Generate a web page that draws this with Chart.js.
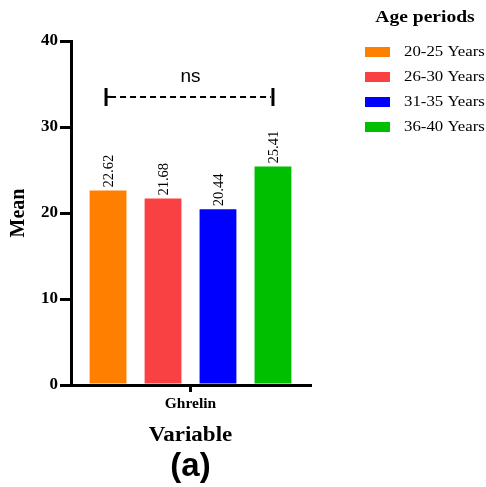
<!DOCTYPE html>
<html>
<head>
<meta charset="utf-8">
<script src="https://cdn.jsdelivr.net/npm/chart.js@4.4.1/dist/chart.umd.min.js"></script>
<style>
html,body{margin:0;padding:0;background:#fff;}
#wrap{width:486px;height:487px;}
</style>
</head>
<body>
<div id="wrap"><canvas id="c" width="486" height="487"></canvas></div>
<script>
const categories = ['Ghrelin'];
const seriesLabels = ['20-25 Years', '26-30 Years', '31-35 Years', '36-40 Years'];
const seriesValues = [[22.62], [21.68], [20.44], [25.41]];
const seriesColors = ['#FF7F00', '#F94144', '#0000FF', '#00BE00'];
const yTicks = [0, 10, 20, 30, 40];
const bracketValue = 33.5;
const bracketLabel = 'ns';
const legendTitle = 'Age periods';
const xTitle = 'Variable';
const yTitle = 'Mean';
const panelLabel = '(a)';

const SERIF = "'Liberation Serif','Times New Roman',serif";
const SANS = "'Liberation Sans',Arial,sans-serif";

function wideText(ctx, text, x, y, sx) {
  ctx.save();
  ctx.translate(x, y);
  ctx.scale(sx, 1);
  ctx.fillText(text, 0, 0);
  ctx.restore();
}

const decor = {
  id: 'decor',
  afterDatasetsDraw(chart) {
    const ctx = chart.ctx;
    const ys = chart.scales.y, xs = chart.scales.x;
    ctx.save();
    // value labels
    chart.data.datasets.forEach((ds, i) => {
      const meta = chart.getDatasetMeta(i);
      meta.data.forEach((bar, j) => {
        ctx.save();
        ctx.translate(bar.x + 1, bar.y - 3);
        ctx.rotate(-Math.PI / 2);
        ctx.font = "14.5px " + SERIF;
        ctx.fillStyle = '#000';
        ctx.textAlign = 'left';
        ctx.textBaseline = 'middle';
        ctx.fillText(ds.data[j].toFixed(2), 0, 0);
        ctx.restore();
      });
    });
    // bracket
    const first = chart.getDatasetMeta(0).data[0];
    const last = chart.getDatasetMeta(chart.data.datasets.length - 1).data[0];
    const by = ys.getPixelForValue(bracketValue);
    ctx.strokeStyle = '#000';
    ctx.lineWidth = 2;
    ctx.setLineDash([6, 4]);
    ctx.beginPath();
    ctx.moveTo(first.x + 2, by);
    ctx.lineTo(last.x - 2, by);
    ctx.stroke();
    ctx.setLineDash([]);
    ctx.lineWidth = 3;
    ctx.beginPath();
    ctx.moveTo(first.x - 2, by - 9); ctx.lineTo(first.x - 2, by + 9);
    ctx.moveTo(last.x, by - 9); ctx.lineTo(last.x, by + 9);
    ctx.stroke();
    ctx.lineWidth = 2;
    ctx.beginPath();
    ctx.moveTo(first.x - 2, by); ctx.lineTo(first.x + 3, by);
    ctx.stroke();
    ctx.font = "19px " + SANS;
    ctx.fillStyle = '#000';
    ctx.textAlign = 'center';
    ctx.textBaseline = 'middle';
    ctx.fillText(bracketLabel, (first.x + last.x) / 2, by - 20);

    // axis titles
    ctx.font = "bold 20px " + SERIF;
    ctx.save();
    ctx.translate(19, (ys.top + ys.bottom) / 2);
    ctx.rotate(-Math.PI / 2);
    ctx.textAlign = 'center';
    ctx.textBaseline = 'middle';
    ctx.fillText(yTitle, 0, 0);
    ctx.restore();
    const cx = (xs.left + xs.right) / 2;
    ctx.font = "bold 20px " + SERIF;
    wideText(ctx, xTitle, cx, 436, 1.15);
    ctx.font = "bold 33px " + SANS;
    wideText(ctx, panelLabel, cx, 467, 1.0);

    // legend
    ctx.font = "bold 17px " + SERIF;
    ctx.textAlign = 'center';
    wideText(ctx, legendTitle, 425, 18, 1.15);
    ctx.font = "15px " + SERIF;
    ctx.textAlign = 'left';
    chart.data.datasets.forEach((ds, i) => {
      const y = 52 + i * 25;
      ctx.fillStyle = ds.backgroundColor;
      ctx.fillRect(365, y - 5, 25, 10);
      ctx.fillStyle = '#000';
      wideText(ctx, ds.label, 404, y, 1.12);
    });
    ctx.restore();
  }
};

new Chart(document.getElementById('c'), {
  type: 'bar',
  data: {
    labels: categories,
    datasets: seriesLabels.map((l, i) => ({
      label: l,
      data: seriesValues[i],
      backgroundColor: seriesColors[i],
      categoryPercentage: 0.92,
      barPercentage: 0.67
    }))
  },
  options: {
    responsive: false,
    animation: false,
    layout: { padding: { top: 41, right: 176, left: 0, bottom: 0 } },
    plugins: { legend: { display: false }, tooltip: { enabled: false } },
    scales: {
      x: {
        grid: { display: true, drawOnChartArea: false, offset: false, color: '#000', tickLength: 7, lineWidth: 3 },
        border: { color: '#000', width: 3 },
        ticks: { font: { family: SERIF, weight: 'bold', size: 15.5 }, color: '#000', padding: 3 },
        afterFit(s) { s.height = 102; }
      },
      y: {
        min: 0, max: 40,
        afterBuildTicks(s) { s.ticks = yTicks.map(v => ({ value: v })); },
        grid: { display: true, drawOnChartArea: false, color: '#000', tickLength: 11, lineWidth: 3 },
        border: { color: '#000', width: 3 },
        ticks: { font: { family: SERIF, weight: 'bold', size: 17 }, color: '#000', padding: 2 },
        afterFit(s) { s.width = 71; }
      }
    }
  },
  plugins: [decor]
});
</script>
</body>
</html>
